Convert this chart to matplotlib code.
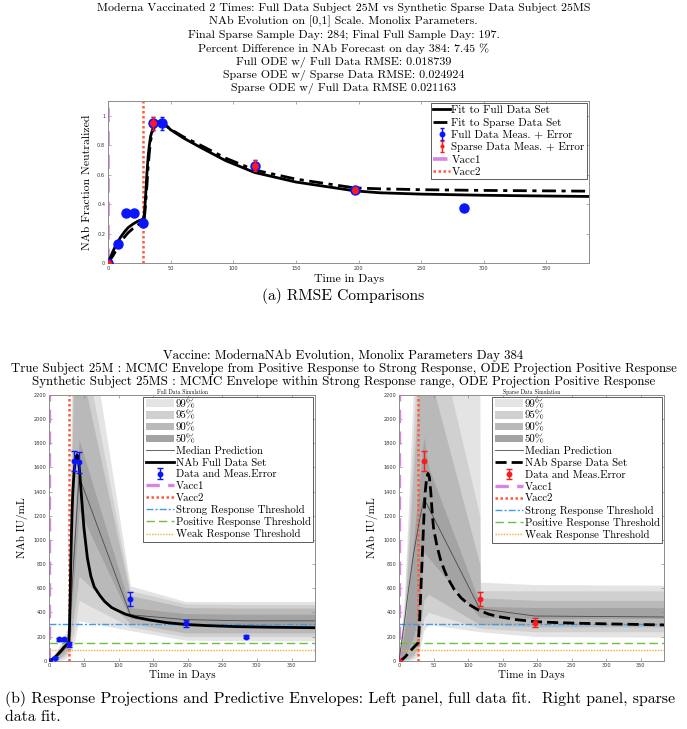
import matplotlib.pyplot as plt
from matplotlib.patches import Patch

plt.rcParams['font.family'] = ['cmr10', 'DejaVu Serif']
plt.rcParams['mathtext.fontset'] = 'cm'
plt.rcParams['axes.unicode_minus'] = False

# ---------------- panel (a): NAb fraction neutralized ----------------
full_days = [0, 8, 14, 21, 28, 36, 43, 117, 197, 284]
full_frac = [0.0, 0.13, 0.337, 0.337, 0.274, 0.95, 0.95, 0.662, 0.497, 0.371]
full_frac_err = [0.004, 0.004, 0.004, 0.004, 0.01, 0.045, 0.045, 0.035, 0.02, 0.006]
sparse_days = [0, 36, 117, 197]
sparse_frac = [0.0, 0.95, 0.662, 0.497]
sparse_frac_err = [0.004, 0.045, 0.035, 0.02]

fit_days_a = [0, 2, 4, 6, 8, 10, 13, 16, 20, 24, 28, 29, 30, 31, 32, 33, 34, 36, 38,
              40, 42, 45, 50, 60, 75, 94, 117, 150, 197, 217, 250, 300, 350, 384]
fit_full_a = [0, 0.04, 0.08, 0.115, 0.145, 0.175, 0.21, 0.24, 0.265, 0.285, 0.298, 0.33,
              0.45, 0.6, 0.72, 0.8, 0.86, 0.92, 0.95, 0.96, 0.958, 0.945, 0.905, 0.85,
              0.78, 0.695, 0.615, 0.55, 0.49, 0.477, 0.468, 0.46, 0.455, 0.452]
fit_sparse_a = [0, 0.025, 0.05, 0.08, 0.11, 0.14, 0.175, 0.205, 0.235, 0.26, 0.275, 0.3,
                0.4, 0.52, 0.65, 0.75, 0.83, 0.9, 0.94, 0.953, 0.952, 0.942, 0.908, 0.858,
                0.795, 0.712, 0.632, 0.57, 0.51, 0.504, 0.498, 0.493, 0.49, 0.488]

title_a = ["Moderna Vaccinated 2 Times: Full Data Subject 25M vs Synthetic Sparse Data Subject 25MS",
           "NAb Evolution on [0,1] Scale. Monolix Parameters.",
           "Final Sparse Sample Day: 284; Final Full Sample Day: 197.",
           "Percent Difference in NAb Forecast on day 384: 7.45 %",
           "Full ODE w/ Full Data RMSE: 0.018739",
           "Sparse ODE w/ Sparse Data RMSE: 0.024924",
           "Sparse ODE w/ Full Data RMSE 0.021163"]

# ---------------- panel (b): NAb IU/mL with MCMC envelopes ----------------
vacc1_day = 0
vacc2_day = 28
strong_thr = 300
positive_thr = 150
weak_thr = 90

# left: full data
obs_full = [0, 25, 177, 177, 136, 1655, 1641, 511, 310, 199]
obs_full_err = [5, 8, 12, 12, 20, 85, 85, 55, 30, 15]
ode_days_l = [0, 3, 7, 10, 14, 18, 21, 25, 28, 29, 30, 31, 32, 33, 34, 36, 38, 40, 42,
              44, 47, 50, 55, 60, 65, 73, 80, 90, 97, 110, 125, 145, 170, 197, 230, 270, 320, 384]
ode_full = [0, 8, 22, 40, 65, 90, 110, 132, 145, 250, 500, 800, 1050, 1250, 1400, 1580,
            1670, 1705, 1680, 1550, 1320, 1100, 850, 700, 610, 540, 490, 440, 420, 385,
            360, 337, 315, 300, 290, 282, 277, 273]
env_days_l = [0, 8, 14, 21, 28, 36, 43, 117, 197, 284, 384]
median_l = [0, 20, 50, 90, 150, 900, 1525, 380, 340, 330, 330]
up99_l = [0, 60, 120, 200, 300, 4200, 3300, 620, 490, 490, 490]
lo99_l = [0, 0, 0, 10, 40, 150, 330, 250, 170, 165, 165]
up95_l = [0, 50, 100, 170, 250, 3100, 2800, 580, 470, 465, 465]
lo95_l = [0, 5, 10, 30, 70, 250, 500, 280, 200, 200, 200]
up90_l = [0, 45, 90, 150, 220, 2600, 2500, 540, 440, 435, 435]
lo90_l = [0, 8, 20, 50, 100, 400, 700, 310, 230, 230, 230]
up50_l = [0, 35, 70, 120, 170, 1100, 1830, 440, 390, 385, 385]
lo50_l = [0, 15, 40, 80, 130, 700, 1250, 350, 285, 280, 280]

# right: sparse data
obs_sparse = [0, 1655, 511, 315]
obs_sparse_err = [5, 85, 55, 35]
ode_days_r = [0, 5, 10, 15, 20, 25, 28, 30, 32, 34, 36, 38, 40, 42, 44, 46, 48, 50, 55,
              60, 65, 70, 80, 90, 100, 115, 130, 144, 170, 197, 230, 260, 300, 384]
ode_sparse = [0, 10, 38, 72, 103, 132, 150, 350, 630, 900, 1180, 1400, 1510, 1550, 1520,
              1400, 1230, 1100, 950, 840, 760, 690, 590, 520, 470, 420, 385, 365, 340,
              323, 315, 310, 305, 296]
env_days_r = [0, 8, 14, 21, 28, 36, 43, 117, 118, 197, 384]
median_r = [0, 330, 600, 880, 1110, 1345, 1266, 430, 430, 370, 362]
up99_r = [0, 550, 1300, 2300, 3200, 4000, 3800, 2600, 650, 630, 625]
lo99_r = [0, 0, 0, 10, 40, 250, 300, 240, 240, 200, 195]
up95_r = [0, 450, 1100, 1900, 2700, 3300, 3000, 1200, 580, 578, 578]
lo95_r = [0, 5, 10, 30, 80, 350, 400, 270, 270, 240, 240]
up90_r = [0, 380, 900, 1600, 2200, 2700, 2400, 800, 520, 500, 500]
lo90_r = [0, 10, 20, 50, 120, 500, 550, 300, 300, 280, 280]
up50_r = [0, 250, 600, 1000, 1400, 1850, 1600, 480, 450, 440, 440]
lo50_r = [0, 40, 100, 200, 350, 900, 850, 360, 360, 350, 350]

title_b = ["Vaccine: ModernaNAb Evolution, Monolix Parameters Day 384",
           "True Subject 25M : MCMC Envelope from Positive Response to Strong Response, ODE Projection Positive Response",
           "Synthetic Subject 25MS : MCMC Envelope within Strong Response range, ODE Projection Positive Response"]

caption_b = ["(b) Response Projections and Predictive Envelopes: Left panel, full data fit.  Right panel, sparse",
             "data fit."]

x_ticks = [0, 50, 100, 150, 200, 250, 300, 350]
y_ticks_a = [0, 0.2, 0.4, 0.6, 0.8, 1.0]
y_ticklabels_a = ['0', '0.2', '0.4', '0.6', '0.8', '1']
y_ticks_b = list(range(0, 2201, 200))

# colours
c_vacc1 = '#d884e0'
c_vacc2 = '#ff5a3c'
c_strong = '#3f9be8'
c_pos = '#6cbf45'
c_weak = '#f5a93c'
band_cols = ['#e4e4e4', '#d0d0d0', '#b9b9b9', '#a3a3a3']
band_labels = ['99%', '95%', '90%', '50%']
spine_col = '#8c8c8c'

fig = plt.figure(figsize=(6.87, 7.29), dpi=100)


def style_axes(ax):
    for sp in ax.spines.values():
        sp.set_color(spine_col)
        sp.set_linewidth(0.7)
    ax.tick_params(direction='in', length=2.5, width=0.5, color=spine_col,
                   labelsize=3.6, pad=2, top=True, right=True, labelcolor='#333333')
    for lab in ax.get_xticklabels() + ax.get_yticklabels():
        lab.set_family('DejaVu Sans')


def frame(lg):
    lg.get_frame().set_edgecolor('#444444')
    lg.get_frame().set_linewidth(0.6)


# ---------------- (a) ----------------
ax = fig.add_axes([0.1572, 0.6392, 0.7002, 0.2222])
ax.axvline(vacc1_day, color=c_vacc1, lw=2.6, ls=(0, (4, 2.5)), label='Vacc1', zorder=2)
ax.axvline(vacc2_day, color=c_vacc2, lw=1.8, ls=(0, (1, 1)), label='Vacc2', zorder=2)
ax.plot(fit_days_a, fit_full_a, color='black', lw=2.0, label='Fit to Full Data Set', zorder=3)
ax.plot(fit_days_a, fit_sparse_a, color='black', lw=2.0, ls=(0, (5, 2, 1.5, 2)),
        label='Fit to Sparse Data Set', zorder=3)
ax.errorbar(full_days, full_frac, yerr=full_frac_err, fmt='o', color='#0a14ff',
            ms=6.5, capsize=1.5, elinewidth=1.0, label='Full Data Meas. + Error', zorder=4)
ax.errorbar(sparse_days, sparse_frac, yerr=sparse_frac_err, fmt='o', color='#ff1a1a',
            ms=4, capsize=1.5, elinewidth=1.0, label='Sparse Data Meas. + Error', zorder=5)
ax.set_xlim(0, 384)
ax.set_ylim(0, 1.1)
ax.set_xticks(x_ticks)
ax.set_yticks(y_ticks_a)
ax.set_yticklabels(y_ticklabels_a)
style_axes(ax)
ax.set_xlabel('Time in Days', fontsize=8.5, labelpad=2)
ax.set_ylabel('NAb Fraction Neutralized', fontsize=8.5, labelpad=4)
h, l = ax.get_legend_handles_labels()
order = ['Fit to Full Data Set', 'Fit to Sparse Data Set', 'Full Data Meas. + Error',
         'Sparse Data Meas. + Error', 'Vacc1', 'Vacc2']
hd = dict(zip(l, h))
leg = ax.legend([hd[k] for k in order], order, loc='upper right', fontsize=8,
                handlelength=1.5, handletextpad=0.12, labelspacing=0.22, borderpad=0.2,
                borderaxespad=0.2, fancybox=False, framealpha=1, markerscale=0.5)
frame(leg)

for i, line in enumerate(title_a):
    fig.text(0.5, 1 - (8 + 13.5 * i) / 729, line, ha='center', va='center', fontsize=8.6)
fig.text(0.5, 1 - 296 / 729, '(a) RMSE Comparisons', ha='center', va='center', fontsize=11.2)


# ---------------- (b) ----------------
def draw_panel(ax, env_days, bands, median, ode_days, ode_vals, ode_ls, ode_label,
               obs_days, obs_vals, obs_err, obs_col, sub_title):
    patches = []
    for (lo, up), col, lab in zip(bands, band_cols, band_labels):
        ax.fill_between(env_days, lo, up, color=col, lw=0, zorder=1)
        patches.append(Patch(facecolor=col, edgecolor='none', label=lab))
    med, = ax.plot(env_days, median, color='#4a4a4a', lw=0.6, zorder=3, label='Median Prediction')
    ode, = ax.plot(ode_days, ode_vals, color='black', lw=2.0, ls=ode_ls, zorder=4, label=ode_label)
    eb = ax.errorbar(obs_days, obs_vals, yerr=obs_err, fmt='o', color=obs_col, ms=3.2,
                     capsize=2, elinewidth=1.0, capthick=1.0, zorder=5)
    v1 = ax.axvline(vacc1_day, color=c_vacc1, lw=2.4, ls=(0, (4, 2.5)), zorder=2, label='Vacc1')
    v2 = ax.axvline(vacc2_day, color=c_vacc2, lw=1.8, ls=(0, (1, 1)), zorder=2, label='Vacc2')
    s = ax.axhline(strong_thr, color=c_strong, lw=1.0, ls=(0, (5, 1.5, 1.5, 1.5)), zorder=2,
                   label='Strong Response Threshold')
    p = ax.axhline(positive_thr, color=c_pos, lw=1.0, ls=(0, (6, 3)), zorder=2,
                   label='Positive Response Threshold')
    w = ax.axhline(weak_thr, color=c_weak, lw=1.0, ls=(0, (1, 1)), zorder=2,
                   label='Weak Response Threshold')
    ax.set_xlim(0, 384)
    ax.set_ylim(0, 2200)
    ax.set_xticks(x_ticks)
    ax.set_yticks(y_ticks_b)
    style_axes(ax)
    ax.set_xlabel('Time in Days', fontsize=8, labelpad=1)
    ax.set_ylabel('NAb IU/mL', fontsize=8, labelpad=4)
    ax.set_title(sub_title, fontsize=4, pad=0.8)
    handles = patches + [med, ode, eb, v1, v2, s, p, w]
    labels = band_labels + ['Median Prediction', ode_label, 'Data and Meas.Error', 'Vacc1',
                            'Vacc2', 'Strong Response Threshold', 'Positive Response Threshold',
                            'Weak Response Threshold']
    lg = ax.legend(handles, labels, loc='upper right', fontsize=7.8, handlelength=2.6,
                   handletextpad=0.15, labelspacing=0.2, borderpad=0.25, borderaxespad=0.15,
                   fancybox=False, framealpha=1)
    frame(lg)
    lg.set_zorder(10)


ax_l = fig.add_axes([0.0718, 0.0937, 0.3868, 0.3645])
draw_panel(ax_l, env_days_l,
           [(lo99_l, up99_l), (lo95_l, up95_l), (lo90_l, up90_l), (lo50_l, up50_l)],
           median_l, ode_days_l, ode_full, '-', 'NAb Full Data Set',
           full_days, obs_full, obs_full_err, '#0a14ff', 'Full Data Simulation')

ax_r = fig.add_axes([0.5808, 0.0937, 0.3857, 0.3645])
draw_panel(ax_r, env_days_r,
           [(lo99_r, up99_r), (lo95_r, up95_r), (lo90_r, up90_r), (lo50_r, up50_r)],
           median_r, ode_days_r, ode_sparse, (0, (4, 1.8)), 'NAb Sparse Data Set',
           sparse_days, obs_sparse, obs_sparse_err, '#ff1a1a', 'Sparse Data Simulation')

for i, line in enumerate(title_b):
    fig.text(0.5, 1 - (356 + 13 * i) / 729, line, ha='center', va='center', fontsize=9.3)

fig.text(5 / 687, 1 - 699 / 729, caption_b[0], ha='left', va='center', fontsize=11.4)
fig.text(5 / 687, 1 - 717 / 729, caption_b[1], ha='left', va='center', fontsize=11.4)

fig.savefig('out.png', dpi=100)
